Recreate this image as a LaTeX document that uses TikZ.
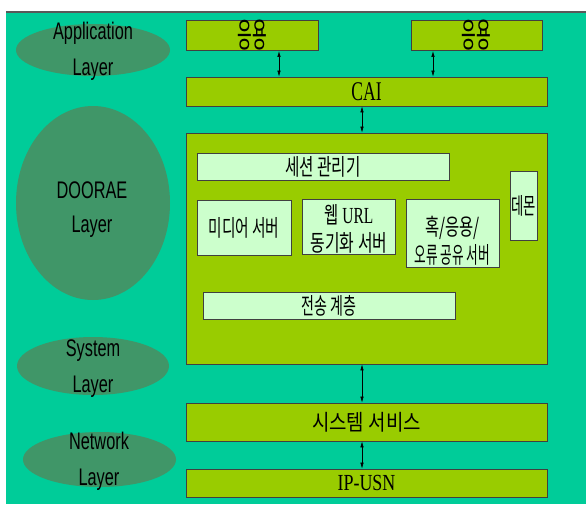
\documentclass[tikz,border=0pt]{standalone}
\usepackage{fontspec}
\setmainfont{Liberation Serif}
\newfontfamily\krf{Noto Sans CJK KR}
\newfontfamily\arf{Liberation Sans}
\usetikzlibrary{shapes.geometric,arrows.meta}
\definecolor{bgteal}{HTML}{00CC99}
\definecolor{ygreen}{HTML}{99CC00}
\definecolor{mint}{HTML}{CCFFCC}
\definecolor{ellg}{HTML}{409668}
\newcommand{\hsq}[2]{\scalebox{#1}[1]{#2}}
\begin{document}
\begin{tikzpicture}[x=1pt,y=-1pt,
  gbox/.style={draw=black!75, line width=0.8pt, fill=ygreen, inner sep=0pt},
  lbox/.style={draw=black!75, line width=0.8pt, fill=mint, inner sep=0pt},
  layerell/.style={ellipse, fill=ellg, draw=none, inner sep=0pt},
  layertxt/.style={align=center, font=\arf\fontsize{24}{36}\selectfont, inner sep=0pt},
  krtxt/.style={align=center, font=\krf\fontsize{23}{28}\selectfont},
  link/.style={{Latex[length=6pt,width=3.5pt]}-{Latex[length=6pt,width=3.5pt]}, line width=0.6pt}]
\useasboundingbox (0,0) rectangle (586,504);
\fill[white] (0,0) rectangle (586,504);
\fill[bgteal] (6,12) rectangle (586,504);
\draw[black!65, line width=1.5pt] (6,12) -- (586,12);

% layer ellipses
\node[layerell, minimum width=154pt, minimum height=52pt] (ellApp) at (93,50) {};
\node[layerell, minimum width=154pt, minimum height=194pt] (ellDoor) at (93,203) {};
\node[layerell, minimum width=152pt, minimum height=58pt] (ellSys) at (93,366) {};
\node[layerell, minimum width=153pt, minimum height=55pt] (ellNet) at (99.5,459.5) {};
\node[layertxt] (appTxt) at (93,51.5) {\hsq{.68}{Application}\\\hsq{.68}{Layer}};
\node[layertxt, font=\arf\fontsize{24}{34}\selectfont] (doorTxt) at (92,210) {\hsq{.68}{DOORAE}\\\hsq{.68}{Layer}};
\node[layertxt] (sysTxt) at (93,368.5) {\hsq{.68}{System}\\\hsq{.68}{Layer}};
\node[layertxt] (netTxt) at (99,461) {\hsq{.68}{Network}\\\hsq{.68}{Layer}};

% main boxes
\node[gbox, minimum width=132pt, minimum height=27pt, font=\krf\fontsize{34}{34}\selectfont] (app1) at (252,35.5) {\hsq{.47}{응용}};
\node[gbox, minimum width=131pt, minimum height=27pt, font=\krf\fontsize{34}{34}\selectfont] (app2) at (476.5,35.5) {\hsq{.47}{응용}};
\node[gbox, minimum width=361pt, minimum height=29pt, font=\rmfamily\fontsize{27}{27}\selectfont] (cai) at (366.5,91.5) {\hsq{.65}{CAI}};
\node[gbox, minimum width=361pt, minimum height=231pt] (dor) at (366.5,248.5) {};
\node[gbox, minimum width=361pt, minimum height=38pt, font=\krf\fontsize{22}{22}\selectfont] (sys) at (366.5,422) {\hsq{.86}{시스템 서비스}};
\node[gbox, minimum width=361pt, minimum height=28pt, font=\rmfamily\fontsize{23}{23}\selectfont] (ipusn) at (366.5,483) {\hsq{.78}{IP-USN}};

% inner boxes
\node[lbox, krtxt, minimum width=252pt, minimum height=27pt] (sess) at (323,166.5) {\hsq{.68}{세션 관리기}};
\node[lbox, krtxt, minimum width=94pt, minimum height=55pt] (media) at (244,227.5) {\hsq{.64}{미디어 서버}};
\node[lbox, minimum width=93pt, minimum height=55pt] (web) at (348.5,226.5) {};
\node[krtxt, inner sep=0pt] (webTxt) at (349,229) {\hsq{.67}{웹 {\rmfamily URL}}\\\hsq{.69}{동기화 서버}};
\node[lbox, minimum width=93pt, minimum height=68pt] (hook) at (452.5,233) {};
\node[krtxt, inner sep=0pt] (hookTxt) at (452.5,241) {\hsq{.67}{혹/응용/}\\\hsq{.55}{오류 공유 서버}};
\node[lbox, krtxt, minimum width=27pt, minimum height=69pt] (daemon) at (523.5,205.5) {\hsq{.58}{데몬}};
\node[lbox, krtxt, minimum width=252pt, minimum height=27pt] (trans) at (329,305.5) {\hsq{.61}{전송 계층}};

% connectors
\coordinate (xa) at (279,0);
\coordinate (xb) at (433,0);
\coordinate (xc) at (362,0);
\draw[link] (app1.south -| xa) -- (cai.north -| xa);
\draw[link] (app2.south -| xb) -- (cai.north -| xb);
\draw[link] (cai.south -| xc) -- (dor.north -| xc);
\draw[link] (dor.south -| xc) -- (sys.north -| xc);
\draw[link] (sys.south -| xc) -- (ipusn.north -| xc);
\end{tikzpicture}
\end{document}
